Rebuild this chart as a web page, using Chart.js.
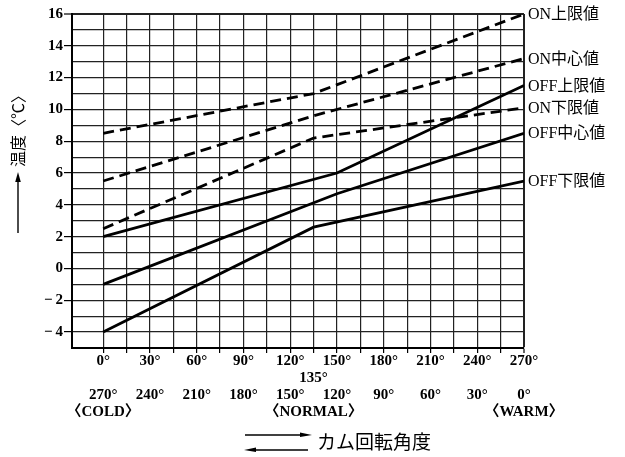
<!DOCTYPE html>
<html>
<head>
<meta charset="utf-8">
<script src="https://cdn.jsdelivr.net/npm/chart.js@4/dist/chart.umd.min.js"></script>
<style>
  html, body { margin: 0; padding: 0; background: #fff; }
  #wrap { width: 625px; height: 457px; }
</style>
</head>
<body>
<div id="wrap"><canvas id="c" width="625" height="457"></canvas></div>
<script>
// ---- data ----
const seriesNames = ['ON上限値', 'ON中心値', 'ON下限値', 'OFF上限値', 'OFF中心値', 'OFF下限値'];

const onUpperAngles  = [0, 135, 270];
const onUpperTemps   = [8.5, 11.0, 16.0];
const onCenterAngles = [0, 135, 270];
const onCenterTemps  = [5.5, 9.6, 13.2];
const onLowerAngles  = [0, 135, 270];
const onLowerTemps   = [2.5, 8.2, 10.1];
const offUpperAngles  = [0, 150, 270];
const offUpperTemps   = [2.0, 6.0, 11.5];
const offCenterAngles = [0, 150, 270];
const offCenterTemps  = [-1.0, 4.7, 8.5];
const offLowerAngles  = [0, 135, 270];
const offLowerTemps   = [-4.0, 2.6, 5.5];

// axis / tick labels
const gridAngles = [-20, 0, 15, 30, 45, 60, 75, 90, 105, 120, 135, 150, 165, 180, 195, 210, 225, 240, 255, 270];
const labelAngles = [0, 30, 60, 90, 120, 150, 180, 210, 240, 270];
const angleLabels = ['0°', '30°', '60°', '90°', '120°', '150°', '180°', '210°', '240°', '270°'];
const reverseAngleLabels = ['270°', '240°', '210°', '180°', '150°', '120°', '90°', '60°', '30°', '0°'];
const middleAngle = 135;
const middleAngleLabel = '135°';
const modeAngles = [0, 135, 270];
const modeNames = ['〈COLD〉', '〈NORMAL〉', '〈WARM〉'];
const gridTemps = [-5, -4, -3, -2, -1, 0, 1, 2, 3, 4, 5, 6, 7, 8, 9, 10, 11, 12, 13, 14, 15, 16];
const yLabelValues = [-4, -2, 0, 2, 4, 6, 8, 10, 12, 14, 16];
const yTitle = '温度〈℃〉';
const xTitle = 'カム回転角度';

// ---- build datasets ----
function pts(xs, ys) { return xs.map((x, i) => ({ x: x, y: ys[i] })); }
const seriesData = [
  pts(onUpperAngles, onUpperTemps),
  pts(onCenterAngles, onCenterTemps),
  pts(onLowerAngles, onLowerTemps),
  pts(offUpperAngles, offUpperTemps),
  pts(offCenterAngles, offCenterTemps),
  pts(offLowerAngles, offLowerTemps)
];
const datasets = seriesData.map((d, i) => ({
  label: seriesNames[i],
  data: d,
  borderColor: '#000',
  borderWidth: 2.8,
  borderDash: i < 3 ? [11, 6] : [],
  pointRadius: 0,
  fill: false,
  tension: 0
}));

function fmtY(v) {
  return v < 0 ? '−\u2009' + Math.abs(v) : String(v);
}

const serif = "'Liberation Serif', 'Noto Sans CJK JP', serif";
const cjk = "'Noto Sans CJK JP', sans-serif";

const decorPlugin = {
  id: 'decor',
  afterDraw(chart) {
    const ctx = chart.ctx;
    const ys = chart.scales.y;
    const area = chart.chartArea;
    ctx.save();
    ctx.fillStyle = '#000';
    ctx.strokeStyle = '#000';
    // series labels at right end
    ctx.font = '16px ' + serif;
    ctx.textAlign = 'left';
    ctx.textBaseline = 'middle';
    seriesData.forEach((d, i) => {
      const last = d[d.length - 1];
      ctx.fillText(seriesNames[i], area.right + 4, ys.getPixelForValue(last.y) + 1);
    });
    // y title with upward arrow
    ctx.save();
    ctx.translate(18, 127);
    ctx.rotate(-Math.PI / 2);
    ctx.font = '16px ' + cjk;
    ctx.textAlign = 'center';
    ctx.textBaseline = 'middle';
    ctx.fillText(yTitle, 0, 0);
    ctx.restore();
    ctx.lineWidth = 1.4;
    ctx.beginPath(); ctx.moveTo(18, 233); ctx.lineTo(18, 180); ctx.stroke();
    ctx.beginPath(); ctx.moveTo(18, 172); ctx.lineTo(15.2, 182); ctx.lineTo(20.8, 182); ctx.closePath(); ctx.fill();
    // bottom arrows
    ctx.lineWidth = 1.3;
    ctx.beginPath(); ctx.moveTo(245, 435); ctx.lineTo(304, 435); ctx.stroke();
    ctx.beginPath(); ctx.moveTo(312, 435); ctx.lineTo(300, 432.5); ctx.lineTo(300, 437); ctx.closePath(); ctx.fill();
    ctx.beginPath(); ctx.moveTo(252, 450); ctx.lineTo(308, 450); ctx.stroke();
    ctx.beginPath(); ctx.moveTo(244, 450); ctx.lineTo(256, 447.5); ctx.lineTo(256, 452); ctx.closePath(); ctx.fill();
    ctx.font = '19px ' + cjk;
    ctx.textAlign = 'left';
    ctx.textBaseline = 'middle';
    ctx.fillText(xTitle, 317, 442);
    ctx.restore();
  }
};

new Chart(document.getElementById('c'), {
  type: 'line',
  data: { datasets: datasets },
  options: {
    responsive: false,
    animation: false,
    layout: { padding: { left: 0, right: 101, top: 14, bottom: 0 } },
    plugins: { legend: { display: false }, tooltip: { enabled: false } },
    scales: {
      x: {
        type: 'linear',
        min: -20,
        max: 270,
        afterBuildTicks(scale) { scale.ticks = gridAngles.map(v => ({ value: v })); },
        afterFit(scale) { scale.height = 109; },
        border: { display: true, color: '#000', width: 2 },
        grid: {
          color: '#222',
          lineWidth: (c) => (c.tick && c.tick.value === 270 ? 2 : 1.2),
          drawTicks: true,
          tickLength: 5,
          tickColor: (c) => (c.tick && c.tick.value >= 0 ? '#000' : 'rgba(0,0,0,0)'),
          tickWidth: 1.2
        },
        ticks: {
          autoSkip: false,
          maxRotation: 0,
          minRotation: 0,
          padding: 0,
          color: '#000',
          font: { family: serif, size: 15, weight: 'bold', lineHeight: 1.13 },
          callback(value) {
            const li = labelAngles.indexOf(value);
            const mi = modeAngles.indexOf(value);
            const row1 = li >= 0 ? angleLabels[li] : '';
            const rowMid = value === middleAngle ? middleAngleLabel : '';
            const row2 = li >= 0 ? reverseAngleLabels[li] : '';
            const row3 = mi >= 0 ? modeNames[mi] : '';
            if (!row1 && !rowMid && !row2 && !row3) return '';
            return [row1, rowMid, row2, row3];
          }
        }
      },
      y: {
        type: 'linear',
        min: -5,
        max: 16,
        afterBuildTicks(scale) { scale.ticks = gridTemps.map(v => ({ value: v })); },
        afterFit(scale) { scale.width = 72; },
        border: { display: true, color: '#000', width: 2 },
        grid: {
          color: '#222',
          lineWidth: (c) => (c.tick && c.tick.value === 16 ? 2 : 1.2),
          drawTicks: true,
          tickLength: 8,
          tickColor: (c) => (c.tick && yLabelValues.indexOf(c.tick.value) >= 0 ? '#000' : 'rgba(0,0,0,0)'),
          tickWidth: 1.2
        },
        ticks: {
          autoSkip: false,
          padding: 1,
          color: '#000',
          font: { family: serif, size: 15, weight: 'bold' },
          callback(value) {
            return yLabelValues.indexOf(value) >= 0 ? fmtY(value) : '';
          }
        }
      }
    }
  },
  plugins: [decorPlugin]
});
</script>
</body>
</html>
